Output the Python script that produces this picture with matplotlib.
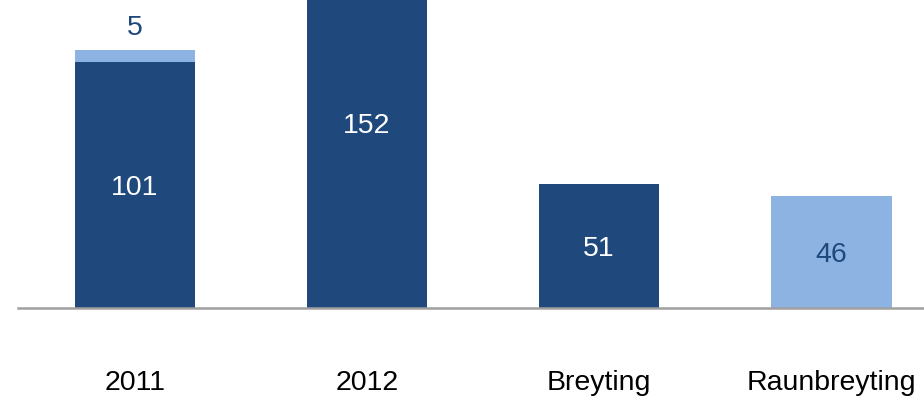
import matplotlib.pyplot as plt

plt.rcParams['font.family'] = ['Liberation Sans', 'DejaVu Sans']

# data
categories = ['2011', '2012', 'Breyting', 'Raunbreyting']
dark_vals = [101, 152, 51, 0]
light_vals = [5, 0, 0, 46]

dark = '#1F497D'
light = '#8DB3E2'
fs = 20.5

fig = plt.figure(figsize=(9.24, 4.01), dpi=100)
ax = fig.add_axes([18 / 924, 93 / 401, 1 - 18 / 924, 308 / 401])

x = range(len(categories))
ax.bar(x, dark_vals, width=0.52, color=dark)
ax.bar(x, light_vals, bottom=dark_vals, width=0.52, color=light)

# labels inside bars
for i in x:
    if dark_vals[i]:
        ax.text(i, dark_vals[i] / 2, str(dark_vals[i]), ha='center', va='center_baseline',
                color='white', fontsize=fs)
# light segments
ax.text(0, dark_vals[0] + light_vals[0] + 3.5, str(light_vals[0]), ha='center',
        va='bottom', color=dark, fontsize=fs)
ax.text(3, light_vals[3] / 2, str(light_vals[3]), ha='center', va='center_baseline',
        color=dark, fontsize=fs)

ax.set_xlim(-0.504, 3.40)
ax.set_ylim(0, 126.5)
ax.set_xticks(list(x))
ax.set_xticklabels(categories, fontsize=fs)
ax.tick_params(axis='x', length=0, pad=45)
ax.set_yticks([])
for s in ['top', 'right', 'left']:
    ax.spines[s].set_visible(False)
ax.spines['bottom'].set_color('#A0A0A0')
ax.spines['bottom'].set_linewidth(1.8)

plt.savefig('out.png', dpi=100)
